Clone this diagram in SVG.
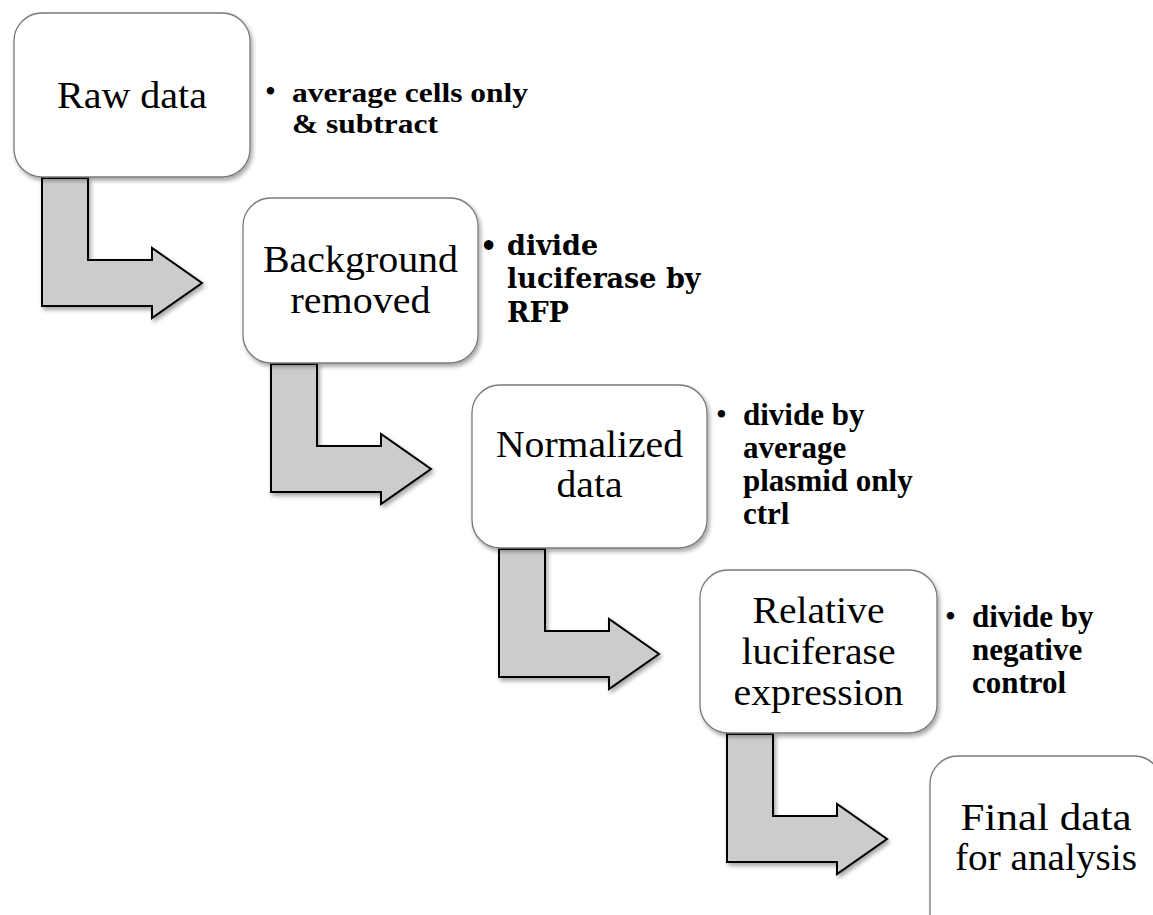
<svg xmlns="http://www.w3.org/2000/svg" width="1153" height="915" viewBox="0 0 1153 915">
  <style>
    .box { fill: #ffffff; stroke: #7a7a7a; stroke-width: 1.3; }
    .arrow { fill: #cccccc; stroke: #000000; stroke-width: 2; stroke-linejoin: miter; }
    .label { font-family: "Liberation Serif", "Times New Roman", serif; font-size: 37px; fill: #000; text-anchor: middle; }
    .note { font-family: "Liberation Serif", "Times New Roman", serif; font-size: 31px; font-weight: bold; fill: #000; }
    .note1 { font-family: "Liberation Serif", "Times New Roman", serif; font-size: 28px; font-weight: bold; fill: #000; }
    .note2 { font-family: "DejaVu Serif", "Liberation Serif", serif; font-size: 27px; font-weight: bold; fill: #000; }
    .bul { font-family: "Liberation Serif", serif; font-size: 31px; fill: #000; }
  </style>
  <defs>
    <filter id="sh" x="-10%" y="-10%" width="125%" height="125%">
      <feDropShadow dx="2" dy="3" stdDeviation="2" flood-color="#000" flood-opacity="0.35"/>
    </filter>
  </defs>
  <rect width="1153" height="915" fill="#ffffff"/>

  <g id="connectors">
    <path class="arrow" filter="url(#sh)" d="M42,178 L88,178 L88,260 L152,260 L152,248 L202,283 L152,318 L152,306 L42,306 Z"/>
    <path class="arrow" filter="url(#sh)" d="M271,364 L317,364 L317,446 L381,446 L381,434 L431,469 L381,504 L381,492 L271,492 Z"/>
    <path class="arrow" filter="url(#sh)" d="M499,549 L545,549 L545,631 L609,631 L609,619 L659,654 L609,689 L609,677 L499,677 Z"/>
    <path class="arrow" filter="url(#sh)" d="M727,734 L773,734 L773,816 L837,816 L837,804 L887,839 L837,874 L837,862 L727,862 Z"/>
  </g>

  <g id="raw-data">
    <rect class="box" filter="url(#sh)" x="14" y="13" width="236" height="164" rx="28"/>
    <text class="label" x="132" y="108" textLength="150" lengthAdjust="spacingAndGlyphs">Raw data</text>
    <text class="bul" x="265" y="102">•</text>
    <text class="note1" x="292" y="102" textLength="236" lengthAdjust="spacingAndGlyphs">average cells only</text>
    <text class="note1" x="292" y="133" textLength="146" lengthAdjust="spacingAndGlyphs">&amp; subtract</text>
  </g>

  <g id="background-removed">
    <rect class="box" filter="url(#sh)" x="243" y="198" width="235" height="165" rx="28"/>
    <text class="label" x="360.5" y="272" textLength="195" lengthAdjust="spacingAndGlyphs">Background</text>
    <text class="label" x="360.5" y="313" textLength="140" lengthAdjust="spacingAndGlyphs">removed</text>
    <text class="note2" x="480" y="255">•</text>
    <text class="note2" x="507" y="255">divide</text>
    <text class="note2" x="507" y="288">luciferase by</text>
    <text class="note2" x="507" y="322">RFP</text>
  </g>

  <g id="normalized-data">
    <rect class="box" filter="url(#sh)" x="472" y="385" width="235" height="163" rx="28"/>
    <text class="label" x="589.5" y="457" textLength="187" lengthAdjust="spacingAndGlyphs">Normalized</text>
    <text class="label" x="589.5" y="497" textLength="66" lengthAdjust="spacingAndGlyphs">data</text>
    <text class="bul" x="716" y="425">•</text>
    <text class="note" x="743" y="425">divide by</text>
    <text class="note" x="743" y="458">average</text>
    <text class="note" x="743" y="491">plasmid only</text>
    <text class="note" x="743" y="524">ctrl</text>
  </g>

  <g id="relative-luciferase">
    <rect class="box" filter="url(#sh)" x="700" y="570" width="237" height="163" rx="28"/>
    <text class="label" x="818.5" y="623" textLength="132" lengthAdjust="spacingAndGlyphs">Relative</text>
    <text class="label" x="818.5" y="664" textLength="154" lengthAdjust="spacingAndGlyphs">luciferase</text>
    <text class="label" x="818.5" y="705" textLength="170" lengthAdjust="spacingAndGlyphs">expression</text>
    <text class="bul" x="945" y="627">•</text>
    <text class="note" x="972" y="627">divide by</text>
    <text class="note" x="972" y="660">negative</text>
    <text class="note" x="972" y="693">control</text>
  </g>

  <g id="final-data">
    <rect class="box" filter="url(#sh)" x="930" y="756" width="232" height="190" rx="28"/>
    <text class="label" x="1046" y="830" textLength="171" lengthAdjust="spacingAndGlyphs">Final data</text>
    <text class="label" x="1046" y="870" textLength="182" lengthAdjust="spacingAndGlyphs">for analysis</text>
  </g>
</svg>
